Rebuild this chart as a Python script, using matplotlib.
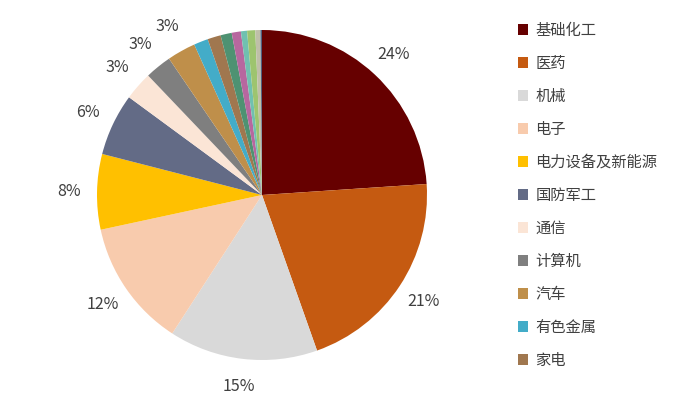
import matplotlib
matplotlib.use("Agg")
import matplotlib.pyplot as plt

plt.rcParams["font.family"] = ["Noto Sans CJK SC", "DejaVu Sans"]

# named sectors (shown in legend), clockwise from 12 o'clock
categories = ["基础化工", "医药", "机械", "电子", "电力设备及新能源", "国防军工",
              "通信", "计算机", "汽车", "有色金属", "家电"]
values = [24.0, 20.7, 14.6, 12.5, 7.4, 6.1, 2.8, 2.6, 2.8, 1.4, 1.3]
# small unnamed sectors at the end of the ring
other_values = [1.1, 0.9, 0.6, 0.8, 0.5, 0.15]
# labels printed next to the pie
pct_labels = ["24%", "21%", "15%", "12%", "8%", "6%", "3%", "3%", "3%"]

colors = ["#660000", "#C55A11", "#D9D9D9", "#F8CBAD", "#FFC000", "#636B86",
          "#FBE5D6", "#7F7F7F", "#BF8F4A", "#43ACC8", "#A0774F"]
other_colors = ["#4E9272", "#B7679F", "#70C0B0", "#9DC46F", "#BFBFA8", "#4F5F7F"]

fig = plt.figure(figsize=(6.95, 3.98), dpi=100)
ax = fig.add_axes([97 / 695, 38 / 398, 330 / 695, 330 / 398])

all_vals = values + other_values
all_cols = colors + other_colors
labels = pct_labels + [""] * (len(all_vals) - len(pct_labels))

wedges, texts = ax.pie(all_vals, colors=all_cols, startangle=90, counterclock=False,
                       labels=labels, labeldistance=1.17,
                       wedgeprops=dict(linewidth=0),
                       textprops=dict(fontsize=11.5, color="#404040"))
for t in texts:
    t.set_ha("center")
    t.set_va("center")
ax.set_xlim(-1, 1)
ax.set_ylim(-1, 1)
ax.set_aspect("equal")

leg = fig.legend(wedges[:len(categories)], categories, loc="upper left",
                 bbox_to_anchor=(510 / 695, 1 - 14 / 398), frameon=False,
                 fontsize=11, handlelength=0.7, handleheight=0.7,
                 handletextpad=0.45, labelspacing=1.05, borderpad=0)
for t in leg.get_texts():
    t.set_color("#404040")

fig.savefig("out.png", dpi=100)
